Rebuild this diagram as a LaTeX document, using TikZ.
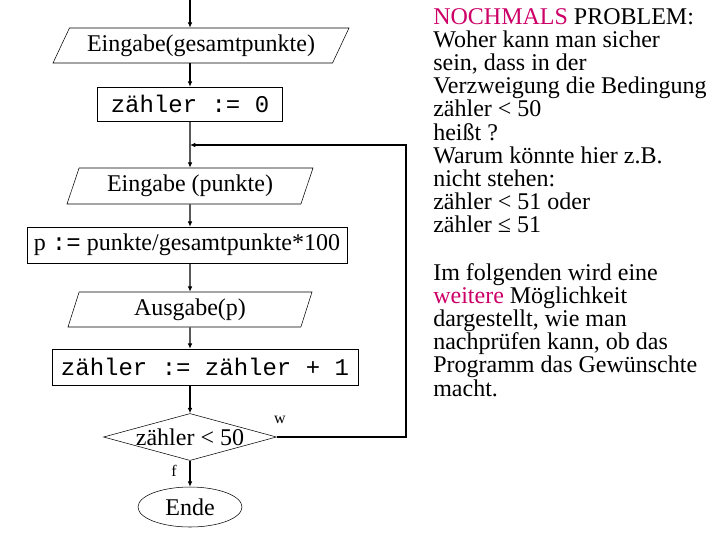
\documentclass[tikz,border=0pt]{standalone}
\usepackage{fontspec}
\setmainfont{Liberation Serif}
\setmonofont{Liberation Mono}
\usetikzlibrary{shapes.geometric, arrows.meta, positioning}
\definecolor{nbmagenta}{RGB}{204,0,102}

\begin{document}
\begin{tikzpicture}[x=0.75pt, y=-0.75pt,
  io/.style={trapezium, draw, trapezium stretches body, inner sep=0pt, font=\fontsize{18}{20}\selectfont},
  proc/.style={rectangle, draw, inner sep=0pt, font=\fontsize{18}{20}\selectfont},
  decision/.style={diamond, draw, shape aspect=3.7, inner sep=-5pt, minimum width=129.75pt, minimum height=35.25pt, font=\fontsize{18}{20}\selectfont},
  term/.style={ellipse, draw, inner sep=0pt, minimum width=78pt, minimum height=30pt, font=\fontsize{18}{20}\selectfont},
  arr/.style={-{Latex[length=4pt, width=3.5pt]}, line width=1.1pt},
  lab/.style={font=\fontsize{12}{14}\selectfont, inner sep=0pt},
  note/.style={align=left, anchor=north west, inner sep=0pt, font=\fontsize{18}{17.4}\selectfont}
]
\useasboundingbox (0,0) rectangle (720,540);

% flowchart
\coordinate (entry) at (190,0);
\node[io, trapezium left angle=53, trapezium right angle=127, minimum width=222pt, minimum height=26.25pt] (in1) at (201,45.5) {Eingabe(gesamtpunkte)};
\node[proc, minimum width=138.75pt, minimum height=25.5pt] (init) at (190,104) {\ttfamily zähler := 0};
\coordinate (join) at (190,145);
\node[io, trapezium left angle=61, trapezium right angle=119, minimum width=184.5pt, minimum height=27pt] (in2) at (190,186) {Eingabe (punkte)};
\node[proc, minimum width=240pt, minimum height=27pt] (calc) at (187,245) {p {\ttfamily :=} punkte/gesamtpunkte*100};
\node[io, trapezium left angle=63, trapezium right angle=117, minimum width=183pt, minimum height=26.25pt] (out) at (190,309.5) {Ausgabe(p)};
\node[proc, minimum width=229.5pt, minimum height=27pt] (inc) at (205,367) {\ttfamily zähler := zähler + 1};
\node[decision] (cond) at (190,437) {zähler < 50};
\node[term] (ende) at (190,507) {Ende};
\coordinate (loop) at (406,145);

\draw[arr] (entry) -- (entry |- in1.north);
\draw[arr] (in1.south -| init) -- (init);
\draw[arr] (init) -- (in2);
\draw[arr] (in2) -- (in2 |- calc.north);
\draw[arr] (calc.south -| out) -- (out);
\draw[arr] (out) -- (out |- inc.north);
\draw[arr] (inc.south -| cond) -- (cond);
\draw[arr] (cond) -- (ende);
\draw[arr] (cond.east) -| (loop) -- (join);

\node[lab] (yes) at (280,420) {w};
\node[lab] (no) at (174,471) {f};

% Fragen rechts
\node[note] (frage) at (433,8) {\textcolor{nbmagenta}{NOCHMALS} PROBLEM:\\
Woher kann man sicher\\
sein, dass in der\\
Verzweigung die Bedingung\\
zähler < 50\\
heißt ?\\
Warum könnte hier z.B.\\
nicht stehen:\\
zähler < 51 oder\\
zähler ≤ 51};
\node[note] (hinweis) at (433,263) {Im folgenden wird eine\\
\textcolor{nbmagenta}{weitere} Möglichkeit\\
dargestellt, wie man\\
nachprüfen kann, ob das\\
Programm das Gewünschte\\
macht.};
\end{tikzpicture}
\end{document}
